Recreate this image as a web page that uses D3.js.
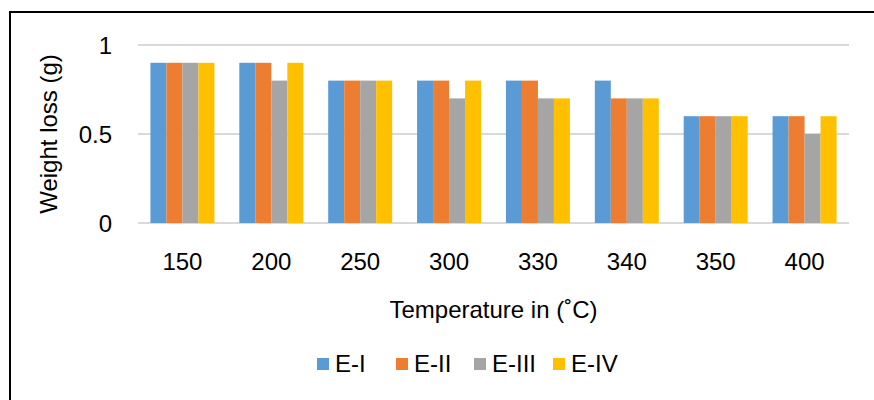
<!DOCTYPE html>
<html>
<head>
<meta charset="utf-8">
<script src="https://cdn.jsdelivr.net/npm/d3@7"></script>
<style>
  body { margin: 0; background: #fff; }
  svg { display: block; font-family: "Liberation Sans", Arial, sans-serif; }
</style>
</head>
<body>
<div id="chart"></div>
<script>
/* Weight loss by temperature - clustered bars */

const temps = ["150", "200", "250", "300", "330", "340", "350", "400"];
const seriesNames = ["E-I", "E-II", "E-III", "E-IV"];
const eI   = [0.9, 0.9, 0.8, 0.8, 0.8, 0.8, 0.6, 0.6];
const eII  = [0.9, 0.9, 0.8, 0.8, 0.8, 0.7, 0.6, 0.6];
const eIII = [0.9, 0.8, 0.8, 0.7, 0.7, 0.7, 0.6, 0.5];
const eIV  = [0.9, 0.9, 0.8, 0.8, 0.7, 0.7, 0.6, 0.6];
const yTicks = [0, 0.5, 1];
const colors = ["#5B9BD5", "#ED7D31", "#A5A5A5", "#FFC000"];

const width = 874, height = 400,
    margin = ({ top: 45, right: 25, bottom: 177, left: 138 }),
    fontSize = 24;

const values = [eI, eII, eIII, eIV];
const data = temps.map((t, i) => ({ temp: t, vals: values.map(v => v[i]) }));

const svg = d3.select("#chart")
    .append("svg")
    .attr("width", width)
    .attr("height", height)
    .attr("viewBox", [0, 0, width, height]);

// outer frame (runs off right / bottom edge like the source)
svg.append("rect")
    .attr("x", 10).attr("y", 12)
    .attr("width", 900).attr("height", 500)
    .attr("fill", "none")
    .attr("stroke", "#000")
    .attr("stroke-width", 2);

let x = d3.scaleBand()
    .domain(temps)
    .range([margin.left, width - margin.right])
    .paddingInner(0.28)
    .paddingOuter(0.14);

let xInner = d3.scaleBand()
    .domain(seriesNames)
    .range([0, x.bandwidth()]);

let y = d3.scaleLinear()
    .domain([0, 1])
    .range([height - margin.bottom, margin.top]);

// gridlines
svg.append("g")
    .selectAll("line")
    .data(yTicks)
    .join("line")
    .attr("x1", margin.left)
    .attr("x2", width - margin.right)
    .attr("y1", d => y(d))
    .attr("y2", d => y(d))
    .attr("stroke", "#D9D9D9")
    .attr("stroke-width", 2);

// y axis labels
let yAxis = svg.append("g")
    .attr("transform", `translate(${margin.left - 23},0)`)
    .call(d3.axisLeft(y).tickValues(yTicks).tickSize(0).tickFormat(d3.format("")));
yAxis.select(".domain").remove();
yAxis.selectAll("text")
    .attr("font-size", fontSize)
    .attr("font-family", "Liberation Sans, Arial, sans-serif")
    .attr("fill", "#000")
    .attr("dy", "0.35em");

// bars
svg.append("g")
    .selectAll("g")
    .data(data)
    .join("g")
    .attr("transform", d => `translate(${x(d.temp)},0)`)
    .selectAll("rect")
    .data(d => d.vals.map((v, k) => ({ key: seriesNames[k], value: v, k })))
    .join("rect")
    .attr("x", d => xInner(d.key))
    .attr("y", d => y(d.value))
    .attr("width", xInner.bandwidth())
    .attr("height", d => y(0) - y(d.value))
    .attr("fill", d => colors[d.k]);

// x axis labels
let xAxis = svg.append("g")
    .attr("transform", `translate(0,${y(0) + 27})`)
    .call(d3.axisBottom(x).tickSize(0));
xAxis.select(".domain").remove();
xAxis.selectAll("text")
    .attr("font-size", fontSize)
    .attr("font-family", "Liberation Sans, Arial, sans-serif")
    .attr("fill", "#000")
    .attr("dy", "0.71em");

// axis titles
svg.append("text")
    .attr("x", (margin.left + width - margin.right) / 2)
    .attr("y", 318)
    .attr("text-anchor", "middle")
    .attr("font-size", fontSize)
    .text("Temperature in (˚C)");

svg.append("text")
    .attr("transform", `translate(57,${(y(0) + y(1)) / 2}) rotate(-90)`)
    .attr("text-anchor", "middle")
    .attr("font-size", fontSize)
    .text("Weight loss (g)");

// legend
const legendX = [317, 396, 474, 553];
let legend = svg.append("g")
    .selectAll("g")
    .data(seriesNames)
    .join("g")
    .attr("transform", (d, i) => `translate(${legendX[i]},364)`);

legend.append("rect")
    .attr("x", 0).attr("y", -6)
    .attr("width", 12).attr("height", 12)
    .attr("fill", (d, i) => colors[i]);

legend.append("text")
    .attr("x", 18)
    .attr("dy", "0.35em")
    .attr("font-size", fontSize)
    .text(d => d);
</script>
</body>
</html>
